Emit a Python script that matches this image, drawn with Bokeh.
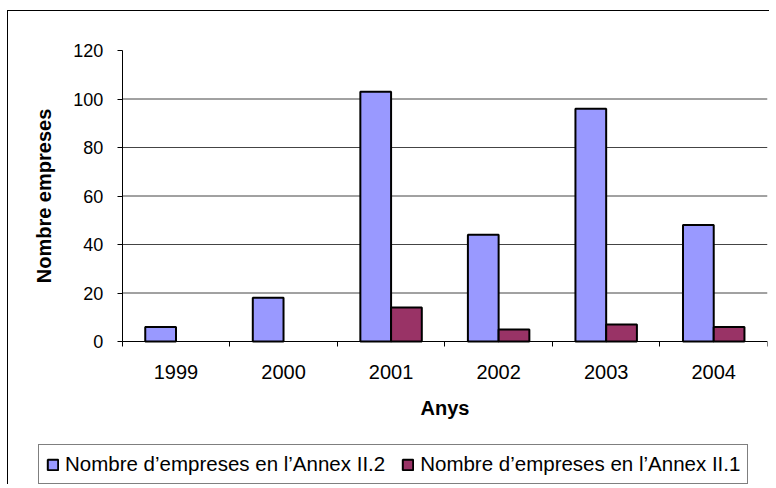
from bokeh.plotting import figure
from bokeh.models import Range1d, FixedTicker, Legend, LegendItem, ColumnDataSource
from bokeh.embed import file_html
from bokeh.resources import INLINE

years = ["1999", "2000", "2001", "2002", "2003", "2004"]
annex_ii2 = [6, 18, 103, 44, 96, 48]
annex_ii1 = [None, None, 14, 5, 7, 6]
label_ii2 = "Nombre d\u2019empreses en l\u2019Annex II.2"
label_ii1 = "Nombre d\u2019empreses en l\u2019Annex II.1"
y_ticks = [0, 20, 40, 60, 80, 100, 120]

FONT = "Liberation Sans"
n = len(years)
bar_w = 1 / 3.5
idx = list(range(n))

# layout constants (pixels inside the figure canvas)
W, H = 762, 474
FL, FR, FT, FB = 12, 759, 12, 473      # frame edges
AX_X, AX_Y, Y_TOP = 113.7, 330, 39     # where data x=0 / y=0 / y=120 sit
px_x = (FR - AX_X) / n
px_y = (AX_Y - Y_TOP) / 120
x_start = -(AX_X - FL) / px_x
y_start = -(FB - AX_Y) / px_y
y_end = 120 + (Y_TOP - FT) / px_y

src = ColumnDataSource(dict(
    xb=[i + 0.5 - bar_w / 2 for i in idx],
    xr=[i + 0.5 + bar_w / 2 for i in idx],
    b=annex_ii2,
    r=[float("nan") if v is None else v for v in annex_ii1],
))
grid_y = [t for t in y_ticks if 0 < t < 120]
grid_src = ColumnDataSource(dict(
    y=grid_y, x0=[0] * len(grid_y), x1=[n] * len(grid_y),
))

p = figure(width=W, height=H, output_backend="svg", toolbar_location=None,
           x_range=Range1d(x_start, n), y_range=Range1d(y_start, y_end))
p.min_border_left = FL
p.min_border_right = W - FR
p.min_border_top = FT
p.min_border_bottom = H - FB
p.outline_line_color = None
p.background_fill_color = "white"
p.border_fill_color = "white"
p.styles = {"margin-left": "7px", "margin-top": "10px",
            "border-top": "1px solid black", "border-left": "1px solid black"}
p.xgrid.visible = False
p.ygrid.visible = False

p.segment(x0="x0", x1="x1", y0="y", y1="y", source=grid_src,
          line_color="#444444", line_width=1)

rb = p.vbar(x="xb", top="b", width=bar_w, source=src, fill_color="#9999FF",
            line_color="black", line_width=2)
rr = p.vbar(x="xr", top="r", width=bar_w, source=src, fill_color="#993366",
            line_color="black", line_width=2)

# y axis
ya = p.yaxis[0]
ya.fixed_location = 0
ya.bounds = (0, 120)
ya.ticker = FixedTicker(ticks=y_ticks)
ya.axis_line_color = "black"
ya.major_tick_in = 0
ya.major_tick_out = 5
ya.minor_tick_line_color = None
ya.major_label_standoff = 14
ya.major_label_text_font = FONT
ya.major_label_text_font_size = "18px"
ya.major_label_text_color = "black"
ya.axis_label = "Nombre empreses"
ya.axis_label_text_font = FONT
ya.axis_label_text_font_size = "20px"
ya.axis_label_text_font_style = "bold"
ya.axis_label_text_color = "black"
ya.axis_label_standoff = 15

# x axis
xa = p.xaxis[0]
xa.fixed_location = 0
xa.bounds = (0, n)
xa.ticker = FixedTicker(ticks=[i + 0.5 for i in idx], minor_ticks=list(range(n + 1)))
xa.major_label_overrides = {i + 0.5: years[i] for i in idx}
xa.axis_line_color = "black"
xa.major_tick_in = 0
xa.major_tick_out = 0
xa.minor_tick_in = 0
xa.minor_tick_out = 5
xa.minor_tick_line_color = "black"
xa.major_label_standoff = 18
xa.major_label_text_font = FONT
xa.major_label_text_font_size = "20px"
xa.major_label_text_color = "black"
xa.axis_label = "Anys"
xa.axis_label_text_font = FONT
xa.axis_label_text_font_size = "20px"
xa.axis_label_text_font_style = "bold"
xa.axis_label_text_color = "black"
xa.axis_label_standoff = 15

legend = Legend(items=[LegendItem(label=label_ii2, renderers=[rb]),
                       LegendItem(label=label_ii1, renderers=[rr])],
                orientation="horizontal", location=(18, 0))
legend.glyph_width = 13
legend.glyph_height = 13
legend.label_standoff = 6
legend.spacing = 16
legend.padding = 7
legend.margin = 0
legend.label_height = 19
legend.label_text_font = FONT
legend.label_text_font_size = "20.5px"
legend.label_text_color = "black"
legend.border_line_color = "black"
legend.border_line_width = 1
legend.background_fill_color = "white"
p.add_layout(legend, "center")

open("out.html", "w").write(file_html(p, INLINE))
